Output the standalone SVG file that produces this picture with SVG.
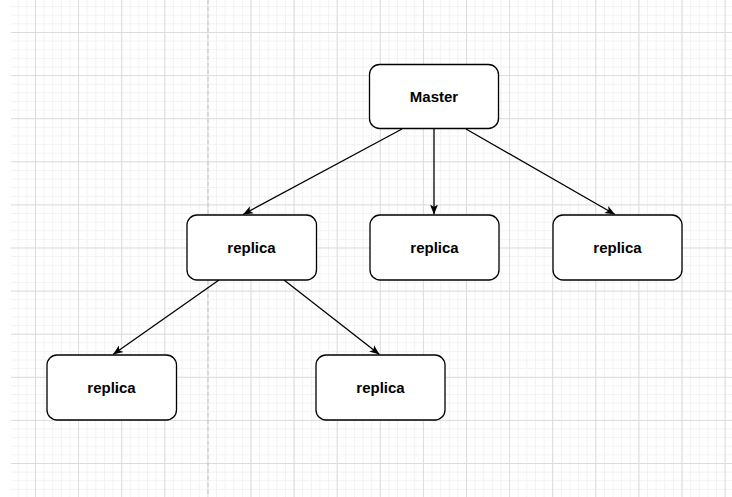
<svg xmlns="http://www.w3.org/2000/svg" width="732" height="497" viewBox="0 0 732 497">
<defs>
<pattern id="minor" patternUnits="userSpaceOnUse" x="35" y="32" width="8.62" height="8.62">
<path d="M0 0.5H8.62M0.5 0V8.62" fill="none" stroke="#f2f2f2" stroke-width="1"/>
</pattern>
<pattern id="major" patternUnits="userSpaceOnUse" x="35" y="32" width="43.1" height="43.1">
<path d="M0 0.5H43.1M0.5 0V43.1" fill="none" stroke="#dcdcdc" stroke-width="1"/>
</pattern>
<marker id="arr" viewBox="0 0 10 10" refX="10" refY="5" markerWidth="10" markerHeight="10" markerUnits="userSpaceOnUse" orient="auto">
<path d="M0 1L10 5L0 9L2.5 5Z" fill="#000"/>
</marker>
<style>
.node rect{fill:#fff;stroke:#000;stroke-width:1.3}
.node text{font-family:"Liberation Sans",Arial,sans-serif;font-weight:bold;font-size:15px;text-anchor:middle;fill:#000}
.edge{fill:none;stroke:#000;stroke-width:1.3;marker-end:url(#arr)}
</style>
</defs>
<rect width="732" height="497" fill="#fff"/>
<rect x="11" y="0" width="721" height="497" fill="url(#minor)"/>
<rect x="11" y="0" width="721" height="497" fill="url(#major)"/>
<line x1="208" y1="0" x2="208" y2="497" stroke="#c4c4c4" stroke-width="1" stroke-dasharray="4 3"/>
<g id="connectors">
<line class="edge" x1="402" y1="129" x2="243" y2="214.5"/>
<line class="edge" x1="434" y1="129" x2="434" y2="214.5"/>
<line class="edge" x1="466" y1="129" x2="615" y2="214.5"/>
<line class="edge" x1="219" y1="280" x2="113" y2="354.5"/>
<line class="edge" x1="284" y1="280" x2="379.5" y2="354.5"/>
</g>
<g id="master" class="node"><rect x="369.5" y="64.5" width="129" height="64" rx="10"/><text x="434" y="102">Master</text></g>
<g id="replica1" class="node"><rect x="187" y="215" width="129.5" height="65" rx="10"/><text x="251.5" y="252.5">replica</text></g>
<g id="replica2" class="node"><rect x="370" y="215" width="129" height="65" rx="10"/><text x="434.5" y="252.5">replica</text></g>
<g id="replica3" class="node"><rect x="553" y="215" width="129" height="65" rx="10"/><text x="617.5" y="252.5">replica</text></g>
<g id="replica4" class="node"><rect x="47" y="355" width="129.5" height="65" rx="10"/><text x="111.5" y="392.5">replica</text></g>
<g id="replica5" class="node"><rect x="316" y="355" width="129" height="65" rx="10"/><text x="380.5" y="392.5">replica</text></g>
</svg>
